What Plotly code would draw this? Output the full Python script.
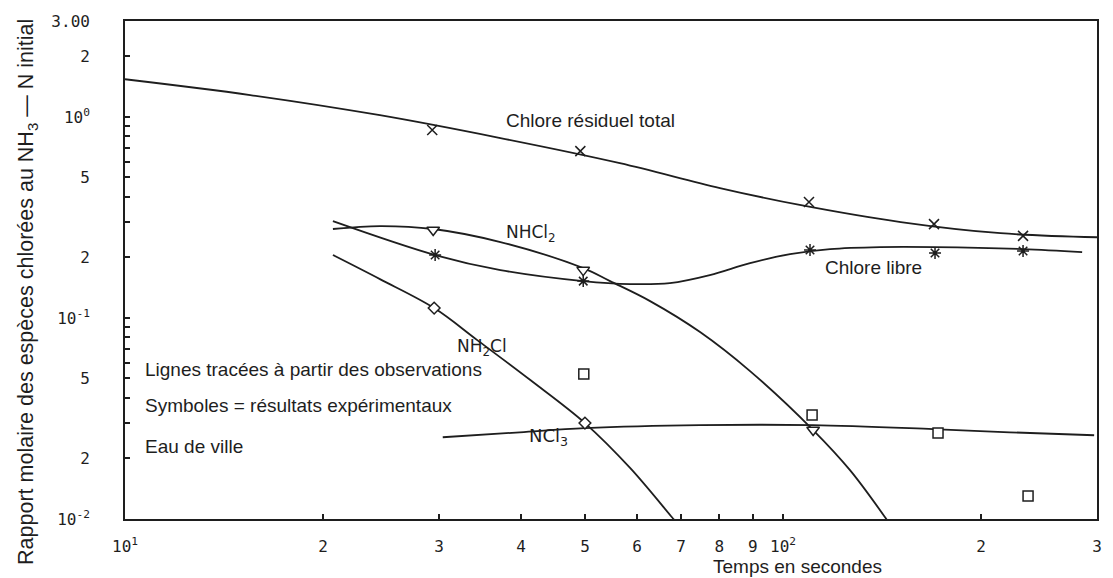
import numpy as np
import plotly.graph_objects as go

# ---- fitted curves (time in s, molar ratio) ----
total_line_t = [10, 15.5, 24.4, 37.2, 56.5, 80.2, 106, 151, 214, 300]
total_line_r = [1.54, 1.285, 1.02, 0.785, 0.589, 0.443, 0.365, 0.30, 0.264, 0.252]

libre_line_t = [20.7, 29.6, 37.2, 49.7, 58.6, 67.3, 77.4, 89.1, 102.5, 117.9, 140.4, 170.2, 231.6, 284.8]
libre_line_r = [0.303, 0.2055, 0.173, 0.1525, 0.1474, 0.1491, 0.1634, 0.1875, 0.2079, 0.2202, 0.2253, 0.2253,
                0.2202, 0.2127]

nhcl2_line_t = [20.7, 24.4, 29.4, 37.2, 49.7, 54.6, 62.8, 74.8, 89.1, 111.1, 126.4, 142.9, 145.0]
nhcl2_line_r = [0.277, 0.2865, 0.277, 0.2385, 0.177, 0.1525, 0.1213, 0.0851, 0.0544, 0.0277, 0.0175, 0.0102,
                0.0095]

nh2cl_line_t = [20.7, 24.4, 29.5, 34.3, 41.3, 50.0, 58.6, 67.8, 68.8]
nh2cl_line_r = [0.2055, 0.156, 0.112, 0.0776, 0.0491, 0.0300, 0.0179, 0.0102, 0.00965]

ncl3_line_t = [30.4, 39.8, 50.0, 74.8, 111.1, 169.0, 221.0, 297.0]
ncl3_line_r = [0.0255, 0.0270, 0.0283, 0.0293, 0.0293, 0.0280, 0.0270, 0.0261]

# ---- experimental points ----
total_obs_t = [29.3, 49.2, 109.5, 169.6, 231.6]
total_obs_r = [0.86, 0.676, 0.377, 0.293, 0.256]

libre_obs_t = [29.6, 49.7, 109.9, 170.2, 231.6]
libre_obs_r = [0.2055, 0.1525, 0.2177, 0.2103, 0.2152]

nhcl2_obs_t = [29.4, 49.7, 111.1]
nhcl2_obs_r = [0.274, 0.173, 0.0277]

nh2cl_obs_t = [29.5, 50.0]
nh2cl_obs_r = [0.112, 0.030]

ncl3_obs_t = [49.8, 110.7, 172.0, 235.7]
ncl3_obs_r = [0.0526, 0.0329, 0.02675, 0.0130]

# ---- axis ticks ----
x_tickvals = [10, 20, 30, 40, 50, 60, 70, 80, 90, 100, 200, 300]
x_ticktext = ["10<sup>1</sup>", "2", "3", "4", "5", "6", "7", "8", "9", "10<sup>2</sup>", "2", "3"]

y_tickvals = [0.01, 0.02, 0.03, 0.04, 0.05, 0.06, 0.07, 0.08, 0.09,
              0.1, 0.2, 0.3, 0.4, 0.5, 0.6, 0.7, 0.8, 0.9, 1, 2, 3]
y_ticktext = ["10<sup>-2</sup>", "2", "", "", "5", "", "", "", "",
              "10<sup>-1</sup>", "2", "", "", "5", "", "", "", "", "10<sup>0</sup>", "2", "3.00"]

INK = "#1e1e1e"
MONO = "DejaVu Sans Mono, Liberation Mono, monospace"
TICK_FONT = dict(family=MONO, size=16, color=INK)
CHEM_FONT = dict(family="DejaVu Sans, sans-serif", size=17, color=INK)
TEXT_FONT = dict(family="Liberation Sans, Arial, sans-serif", size=19, color=INK)

fig = go.Figure()


def curve(t, r):
    fig.add_trace(go.Scatter(x=t, y=r, mode="lines",
                             line=dict(color=INK, width=1.8, shape="spline", smoothing=1.0),
                             hoverinfo="skip", showlegend=False))


def points(t, r, symbol, size, filled=True):
    fig.add_trace(go.Scatter(x=t, y=r, mode="markers",
                             marker=dict(symbol=symbol, size=size,
                                         color="white" if filled else INK,
                                         line=dict(color=INK, width=1.5)),
                             showlegend=False))


curve(total_line_t, total_line_r)
curve(libre_line_t, libre_line_r)
curve(nhcl2_line_t, nhcl2_line_r)
curve(nh2cl_line_t, nh2cl_line_r)
curve(ncl3_line_t, ncl3_line_r)

points(total_obs_t, total_obs_r, "x-thin-open", 10, filled=False)
points(libre_obs_t, libre_obs_r, "asterisk-open", 10, filled=False)
points(nhcl2_obs_t, nhcl2_obs_r, "triangle-down", 11)
points(nh2cl_obs_t, nh2cl_obs_r, "diamond", 9)
points(ncl3_obs_t, ncl3_obs_r, "square", 10)


def label(t, r, text, font, xanchor="left"):
    fig.add_annotation(x=np.log10(t), y=np.log10(r), text=text, showarrow=False,
                       xanchor=xanchor, yanchor="middle", font=font)


label(51.0, 0.965, "Chlore résiduel total", TEXT_FONT, xanchor="center")
label(37.7, 0.262, "NHCl<sub>2</sub>", CHEM_FONT)
label(115.0, 0.179, "Chlore libre", TEXT_FONT)
label(31.7, 0.0716, "NH<sub>2</sub>Cl", CHEM_FONT)
label(40.8, 0.0255, "NCl<sub>3</sub>", dict(CHEM_FONT, size=18))
label(10.65, 0.0557, "Lignes tracées à partir des observations", TEXT_FONT)
label(10.65, 0.0369, "Symboles = résultats expérimentaux", TEXT_FONT)
label(10.65, 0.0230, "Eau de ville", TEXT_FONT)

fig.add_annotation(xref="paper", yref="paper", x=0.692, y=-0.096, text="Temps en secondes",
                   showarrow=False, xanchor="center", yanchor="middle", font=TEXT_FONT)
fig.add_annotation(xref="paper", yref="paper", x=-0.0998, y=0.456,
                   text="Rapport molaire des espèces chlorées au NH<sub>3</sub> — N initial",
                   showarrow=False, textangle=-90, xanchor="center", yanchor="middle",
                   font=dict(TEXT_FONT, size=21.5))

axis_common = dict(type="log", showgrid=False, zeroline=False, showline=True, linecolor=INK, linewidth=1.8,
                   mirror=True, ticks="inside", ticklen=5, tickwidth=1.5, tickcolor=INK,
                   tickmode="array", tickfont=TICK_FONT)

fig.update_xaxes(range=[1, np.log10(300)], tickvals=x_tickvals, ticktext=x_ticktext,
                 ticklabelstandoff=12, **axis_common)
fig.update_yaxes(range=[-2, np.log10(3)], tickvals=y_tickvals, ticktext=y_ticktext,
                 ticklabelstandoff=30, **axis_common)

fig.update_layout(width=1113, height=578, margin=dict(l=125, r=16, t=21, b=59),
                  paper_bgcolor="white", plot_bgcolor="white", showlegend=False)

fig.write_html("out.html")
